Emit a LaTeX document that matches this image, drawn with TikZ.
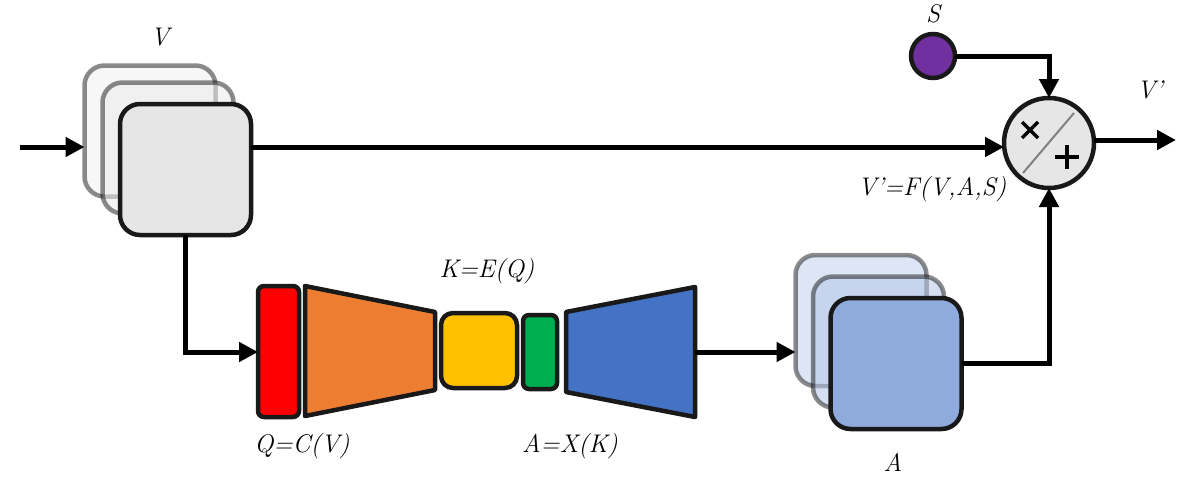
\documentclass[tikz,border=0pt]{standalone}
\usetikzlibrary{arrows.meta}
\definecolor{cred}{HTML}{FF0000}
\definecolor{corange}{HTML}{ED7D31}
\definecolor{cyellow}{HTML}{FFC000}
\definecolor{cgreen}{HTML}{00B050}
\definecolor{cblue}{HTML}{4472C4}
\definecolor{cpurple}{HTML}{7030A0}
\definecolor{cgreyfill}{HTML}{E6E6E6}
\definecolor{cafront}{HTML}{8FAADC}
\definecolor{caback}{HTML}{B4C7E7}
\begin{document}
\begin{tikzpicture}[x=1pt,y=-1pt,
  every node/.style={inner sep=0pt,outer sep=0pt},
  conn/.style={line width=5pt,-{Triangle[length=19pt,width=19pt]}},
  shp/.style={draw=black!90,line width=4.5pt,line join=round},
  frontbox/.style={shp,rounded corners=20pt,minimum width=131pt,minimum height=131pt},
  backbox/.style={draw=black,draw opacity=0.45,line width=4.5pt,rounded corners=20pt,minimum width=131pt,minimum height=131pt,fill opacity=0.55},
  lbl/.style={font=\itshape\fontsize{25.5}{30}\selectfont}
]
\useasboundingbox (0,0) rectangle (1193,482);
% V stack
\node[backbox,fill=cgreyfill!60] (vb1) at (150,131) {};
\node[backbox,fill=cgreyfill!80] (vb2) at (168,148) {};
\node[frontbox,fill=cgreyfill] (vf) at (185.5,169.5) {};
\node[lbl] (vlab) at (160,37) {V};
% input arrow
\coordinate (in) at (20,147);
\draw[conn] (in) -- (in -| vb1.west);
% encoder chain
\node[shp,fill=cred,rounded corners=6pt,minimum width=41pt,minimum height=131pt] (red) at (278.5,351.5) {};
\coordinate (o1) at (305,286); \coordinate (o2) at (435,312);
\coordinate (o3) at (435,390); \coordinate (o4) at (305,416);
\draw[shp,fill=corange] (o1) -- (o2) -- (o3) -- (o4) -- cycle;
\node[shp,fill=cyellow,rounded corners=12pt,minimum width=76pt,minimum height=75pt] (yel) at (479,350.5) {};
\node[shp,fill=cgreen,rounded corners=6pt,minimum width=34pt,minimum height=74pt] (grn) at (540,352) {};
\coordinate (b1) at (566,312); \coordinate (b2) at (695,287);
\coordinate (b3) at (695,417); \coordinate (b4) at (566,392);
\draw[shp,fill=cblue] (b1) -- (b2) -- (b3) -- (b4) -- cycle;
\coordinate (bout) at (695,352);
\node[lbl] (klab) at (487,271) {K=E(Q)};
\node[lbl] (qlab) at (302,446) {Q=C(V)};
\node[lbl] (alab) at (570,446) {A=X(K)};
% A stack
\node[backbox,fill=caback!80] (ab1) at (861,320.5) {};
\node[backbox,fill=caback] (ab2) at (878.5,342) {};
\node[frontbox,fill=cafront] (af) at (896,363.5) {};
\node[lbl] (Alab) at (893,462) {A};
% combine circle
\node[circle,draw=black!90,line width=4.5pt,fill=cgreyfill,minimum size=90pt] (op) at (1049,143) {};
\draw[black!50,line width=2pt] (1023,173) -- (1074,113);
\draw[line width=3.5pt] (1022,122) -- (1038,138) (1022,138) -- (1038,122);
\draw[line width=3.5pt] (1055,157) -- (1079,157) (1067,145) -- (1067,169);
% S
\node[circle,draw=black!90,line width=4.5pt,fill=cpurple,minimum size=44pt] (s) at (933,56) {};
\node[lbl] (slab) at (933,14) {S};
\node[lbl] (vplab) at (1150,90) {V’};
\node[lbl] (flab) at (932,189) {V’=F(V,A,S)};
% connectors
\coordinate (vin) at (1004,147);
\draw[conn] (vf.east |- vin) -- (vin);
\coordinate (vdown) at (185.5,352);
\draw[conn] (vf.south) -- (vdown) -- (red.west |- vdown);
\draw[conn] (bout) -- (bout -| ab1.west);
\coordinate (acorner) at (1049,363);
\draw[conn] (af.east |- acorner) -- (acorner) -- (op.south);
\draw[conn] (s.east) -| (op.north);
\coordinate (outend) at (1176,140);
\draw[conn] (op.east |- outend) -- (outend);
\end{tikzpicture}
\end{document}
